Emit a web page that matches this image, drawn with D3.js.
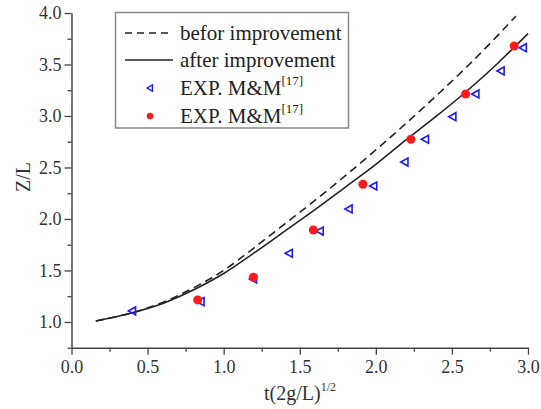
<!DOCTYPE html>
<html>
<head>
<meta charset="utf-8">
<script src="https://cdn.jsdelivr.net/npm/d3@7"></script>
<style>
  body { margin: 0; background: #fff; }
  svg text { font-family: 'Liberation Serif', 'Times New Roman', serif; }
</style>
</head>
<body>
<svg id="chart" width="541" height="409"></svg>
<script>
// curve values
const curveX = [0.16, 0.4, 0.6, 0.8, 1.0, 1.2, 1.4, 1.6, 1.8, 2.0, 2.2, 2.4, 2.6, 2.8, 3.0];
const afterY = [1.01, 1.09, 1.18, 1.31, 1.47, 1.67, 1.88, 2.09, 2.31, 2.53, 2.77, 3.00, 3.245, 3.51, 3.80];
const beforeX = [0.16, 0.4, 0.6, 0.8, 1.0, 1.2, 1.4, 1.6, 1.8, 2.0, 2.2, 2.4, 2.6, 2.8, 2.92];
const beforeY = [1.01, 1.09, 1.19, 1.33, 1.50, 1.72, 1.95, 2.18, 2.42, 2.67, 2.93, 3.20, 3.48, 3.78, 3.97];

// experimental points
const blueX = [0.40, 0.85, 1.195, 1.43, 1.633, 1.823, 1.985, 2.19, 2.325, 2.505, 2.656, 2.822, 2.968];
const blueY = [1.107, 1.197, 1.417, 1.667, 1.883, 2.097, 2.32, 2.553, 2.774, 2.993, 3.214, 3.437, 3.663];
const redX = [0.829, 1.195, 1.589, 1.915, 2.23, 2.59, 2.909];
const redY = [1.214, 1.434, 1.893, 2.337, 2.774, 3.214, 3.68];

const xTicks = [0.0, 0.5, 1.0, 1.5, 2.0, 2.5, 3.0];
const yTicks = [1.0, 1.5, 2.0, 2.5, 3.0, 3.5, 4.0];

const serif = "'Liberation Serif', 'Times New Roman', serif";
const svg = d3.select("#chart");
const plotL = 71.5, plotR = 528, plotT = 13, plotB = 347.7;

const x = d3.scaleLinear().domain([0, 3]).range([plotL, plotR]);
const y = d3.scaleLinear().domain([0.75, 4.0]).range([plotB, plotT]);

const axisColor = "#444";
const textColor = "#333";

// minor ticks
svg.append("g")
    .attr("transform", "translate(0," + plotB + ")")
    .call(d3.axisBottom(x).tickValues(d3.range(0.25, 3, 0.5)).tickSize(4).tickFormat(""))
    .call(g => g.select(".domain").remove());
svg.append("g")
    .attr("transform", "translate(" + plotL + ",0)")
    .call(d3.axisLeft(y).tickValues(d3.range(0.75, 4, 0.5)).tickSize(4).tickFormat(""))
    .call(g => g.select(".domain").remove());

// major axes
svg.append("g")
    .attr("transform", "translate(0," + plotB + ")")
    .call(d3.axisBottom(x).tickValues(xTicks).tickSize(7).tickPadding(6).tickSizeOuter(0)
        .tickFormat(d3.format(".1f")));
svg.append("g")
    .attr("transform", "translate(" + plotL + ",0)")
    .call(d3.axisLeft(y).tickValues(yTicks).tickSize(7).tickPadding(3).tickSizeOuter(0)
        .tickFormat(d3.format(".1f")));

svg.selectAll("g").attr("font-family", serif).attr("font-size", 18);
svg.selectAll(".tick line").attr("stroke", axisColor).attr("stroke-width", 1.3);
svg.selectAll(".domain").attr("stroke", axisColor).attr("stroke-width", 1.5);
svg.selectAll(".tick text").attr("fill", textColor);

// axis titles
const xt = svg.append("text")
    .attr("x", 300).attr("y", 400)
    .attr("text-anchor", "middle")
    .attr("fill", textColor)
    .attr("font-family", serif)
    .attr("font-size", 20);
xt.append("tspan").text("t(2g/L)");
xt.append("tspan").attr("dy", -9).attr("font-size", 12).text("1/2");

svg.append("text")
    .attr("transform", "translate(30,177) rotate(-90)")
    .attr("text-anchor", "middle")
    .attr("fill", textColor)
    .attr("font-family", serif)
    .attr("font-size", 20)
    .text("Z/L");

// curves
const line = d3.line().x(d => x(d[0])).y(d => y(d[1])).curve(d3.curveMonotoneX);

svg.append("path")
    .datum(d3.zip(beforeX, beforeY))
    .attr("d", line)
    .attr("fill", "none")
    .attr("stroke", "#222")
    .attr("stroke-width", 1.6)
    .attr("stroke-dasharray", "8,5");

svg.append("path")
    .datum(d3.zip(curveX, afterY))
    .attr("d", line)
    .attr("fill", "none")
    .attr("stroke", "#222")
    .attr("stroke-width", 1.6);

// blue open triangles pointing left
function tri(cx, cy, s) {
    return "M" + (cx - s) + "," + cy + "L" + (cx + s * 0.8) + "," + (cy - s) + "L" + (cx + s * 0.8) + "," + (cy + s) + "Z";
}
svg.append("g").selectAll("path")
    .data(d3.zip(blueX, blueY))
    .enter().append("path")
    .attr("d", d => tri(x(d[0]), y(d[1]), 4))
    .attr("fill", "none")
    .attr("stroke", "#1a1aff")
    .attr("stroke-width", 1.6);

svg.append("g").selectAll("circle")
    .data(d3.zip(redX, redY))
    .enter().append("circle")
    .attr("cx", d => x(d[0]))
    .attr("cy", d => y(d[1]))
    .attr("r", 4.5)
    .attr("fill", "#ff1a1a");

// legend
const lg = svg.append("g");
lg.append("rect")
    .attr("x", 115.5).attr("y", 12.5)
    .attr("width", 233).attr("height", 115.5)
    .attr("fill", "#fff")
    .attr("stroke", "#888")
    .attr("stroke-width", 1.5);

const rows = [33, 60, 88, 116];
lg.append("line").attr("x1", 125).attr("x2", 168).attr("y1", rows[0]).attr("y2", rows[0])
    .attr("stroke", "#222").attr("stroke-width", 1.6).attr("stroke-dasharray", "7,5");
lg.append("line").attr("x1", 125).attr("x2", 173).attr("y1", rows[1]).attr("y2", rows[1])
    .attr("stroke", "#222").attr("stroke-width", 1.6);
lg.append("path").attr("d", tri(150, rows[2], 3))
    .attr("fill", "none").attr("stroke", "#1a1aff").attr("stroke-width", 1.4);
lg.append("circle").attr("cx", 150).attr("cy", rows[3]).attr("r", 3.3).attr("fill", "#ff1a1a");

const labels = ["befor improvement", "after improvement", "EXP. M&M", "EXP. M&M"];
labels.forEach((t, i) => {
    const tx = lg.append("text")
        .attr("x", 180).attr("y", rows[i] + 7)
        .attr("fill", "#222")
        .attr("font-family", serif)
        .attr("font-size", 21);
    tx.append("tspan").text(t);
    if (i >= 2) {
        tx.append("tspan").attr("dy", -10).attr("font-size", 13).text("[17]");
    }
});
</script>
</body>
</html>
